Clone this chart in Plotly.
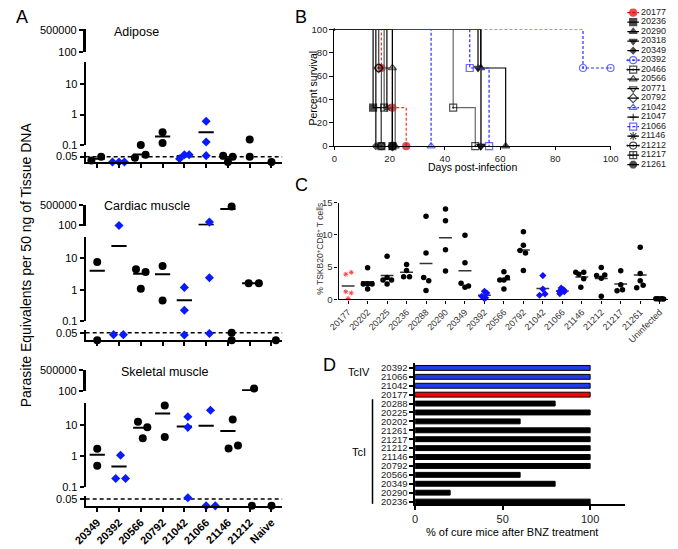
import math
import plotly.graph_objects as go

W, H = 678, 549
FONT = "Arial, Liberation Sans, sans-serif"

# ---------------- Panel A data: parasite equivalents (0 = below detection)
A_CATS = ["20349", "20392", "20566", "20792", "21042", "21066", "21146", "21212", "Naive"]
A_TCIV = ["20392", "21042", "21066"]
LOD = 0.05

ADIPOSE_VALS = [[0.014, 0.05], [0, 0, 0], [0.04, 0.1, 0.068], [0.26, 0.115], [0.03, 0.068, 0.068],
                [0.6, 0.125, 0.059], [0.059, 0, 0.05], [0.15, 0.05], [0]]
ADIPOSE_JIT = [[-0.27, 0.18], [-0.3, 0, 0.25], [-0.27, 0, 0.22], [0, 0], [-0.22, 0, 0.22],
               [0, 0, 0], [-0.22, 0, 0.22], [0, 0], [0]]
ADIPOSE_MEAN = [0.03, None, 0.07, 0.19, 0.055, 0.26, 0.036, None, None]

CARDIAC_VALS = [[7.7, 0], [100, 0.037, 0.037], [4.5, 1.07, 3.65], [5.75, 0.45], [1.18, 0.22, 0.035],
                [400, 2.4, 0.045], [250000, 0.05, 0], [1.6, 1.6], [0]]
CARDIAC_JIT = [[0, 0], [0, -0.25, 0.2], [-0.22, 0, 0.22], [0, 0], [0, 0, 0],
               [0.15, 0.15, 0.15], [0.17, 0.17, 0.17], [-0.05, 0.42], [0.2]]
CARDIAC_MEAN = [4.0, 25, 3.2, 3.1, 0.46, 134, 83000, 1.6, None]

SKELETAL_VALS = [[1.69, 0.49], [1.05, 0.19, 0.19], [12.4, 8.2, 3.7], [41, 4.0], [17.8, 8.2, 0.059],
                 [28.8, 0, 0], [14.6, 1.74, 2.16], [250, 0], [0]]
SKELETAL_JIT = [[0, 0], [0.07, -0.15, 0.3], [-0.13, 0.3, 0.09], [0.1, 0.1], [0.16, 0.16, 0.16],
                [0.2, 0, 0.42], [0.22, 0.03, 0.46], [0.2, 0.1], [0]]
SKELETAL_MEAN = [1.1, 0.46, 8.0, 22.6, 8.7, 9.3, 6.3, 120, None]

# ---------------- Panel B data: survival
SURV_STRAINS = ["20177", "20236", "20290", "20318", "20349", "20392", "20466", "20566", "20771",
                "20792", "21042", "21047", "21066", "21146", "21212", "21217", "21261"]
SURV_DAYS = [[0, 17, 21, 26], [0, 14, 17], [0, 53, 62], [0, 52, 53], [0, 15], [0, 90, 100],
             [0, 43, 51], [0, 21, 22], [0, 53], [0, 16, 21], [0, 35], [0, 52, 53], [0, 49, 56],
             [0, 19, 21], [0, 16, 17], [0, 18, 21], [0, 21]]
SURV_PCT = [[100, 67, 33, 0], [100, 33, 0], [100, 67, 0], [100, 67, 0], [100, 0], [100, 67, 67],
            [100, 33, 0], [100, 67, 0], [100, 0], [100, 67, 0], [100, 0], [100, 67, 0], [100, 67, 0],
            [100, 33, 0], [100, 67, 0], [100, 33, 0], [100, 0]]

# ---------------- Panel C data: % TSKB20+ CD8+ T cells
C_CATS = ["20177", "20202", "20225", "20236", "20288", "20290", "20349", "20392", "20566", "20792",
          "21042", "21066", "21146", "21212", "21217", "21261", "Uninfected"]
C_VALS = [[3.9, 4.2, 1.2, 1.0, 0.15], [4.9, 2.4, 2.4, 2.4, 1.6], [6.7, 3.4, 3.0, 3.0, 2.4],
          [5.4, 4.5, 3.5, 3.5], [12.9, 7.2, 3.4, 2.9, 1.4], [14.0, 12.2, 7.7, 4.4],
          [9.95, 5.7, 2.5, 1.9, 2.1], [1.26, 1.0, 0.5, 0.25, 0.25], [4.3, 3.0, 3.0, 3.4, 1.6],
          [10.5, 8.4, 7.6, 7.2, 4.5], [3.7, 1.6, 0.65, 0.86], [1.77, 1.5, 1.26, 1.2, 0.9],
          [4.2, 3.9, 4.2, 3.2, 1.9], [4.95, 3.7, 3.8, 3.3, 0.5], [4.45, 2.27, 1.36, 1.5],
          [8.1, 4.0, 2.9, 2.2, 1.8], [0.1, 0.1, 0.05, 0.1, 0.05]]
C_JIT = [[-0.12, 0.16, -0.12, 0.16, 0], [0, -0.22, 0, 0.23, 0], [0, 0, -0.21, 0.23, 0],
         [0, 0, -0.15, 0.15], [0, 0, -0.12, 0.14, 0], [0, 0, 0, 0], [0, 0, -0.2, 0, 0.18],
         [0, 0.12, -0.14, 0.06, -0.04], [0, -0.21, 0, 0.18, 0], [0, 0, -0.17, 0.11, 0],
         [0, 0, -0.17, 0.11], [-0.06, 0.07, -0.14, 0.1, -0.13], [-0.31, -0.15, 0.1, 0.1, -0.05],
         [0, -0.24, 0.18, 0, 0], [0, 0, -0.19, 0.09], [0, 0, 0, 0.15, -0.18],
         [-0.2, -0.1, 0, 0.1, 0.2]]

# ---------------- Panel D data: % cure after BNZ
D_CATS = ["20392", "21066", "21042", "20177", "20288", "20225", "20202", "21261", "21217",
          "21212", "21146", "20792", "20566", "20349", "20290", "20236"]
D_CURE = [100, 100, 100, 100, 80, 100, 60, 100, 100, 100, 100, 100, 60, 80, 20, 100]


def px_x(a, b):
    return [a / W, b / W]


def px_y(top, bot):
    return [1 - bot / H, 1 - top / H]


def ax_key(kind, n):
    return f"{kind}axis" if n == 1 else f"{kind}axis{n}"


def ref(kind, n):
    return kind if n == 1 else f"{kind}{n}"


def base_axis(**kw):
    d = dict(showgrid=False, zeroline=False, showline=True, linecolor="black", linewidth=1.5,
             ticks="outside", ticklen=4, tickwidth=1.5, tickcolor="black",
             tickfont=dict(size=11, color="black"))
    d.update(kw)
    return d


fig = go.Figure()
layout = dict(width=W, height=H, margin=dict(l=0, r=0, t=0, b=0), paper_bgcolor="white",
              plot_bgcolor="white", showlegend=False, font=dict(family=FONT, color="black"))
annotations = []
shapes = []

# ================= Panel A
BLUE = "#0a1aff"
A_GEOM = [
    dict(t5=25, t100=47, mtop=57, m01=142, mdec=31, l05=154, ax=159.5),
    dict(t5=204, t100=224, mtop=236, m01=322, mdec=32, l05=334, ax=341.7),
    dict(t5=373, t100=393, mtop=406, m01=492, mdec=32, l05=504, ax=511),
]
A_SETS = [(ADIPOSE_VALS, ADIPOSE_JIT, ADIPOSE_MEAN, "Adipose", (127, 27)),
          (CARDIAC_VALS, CARDIAC_JIT, CARDIAC_MEAN, "Cardiac muscle", (138, 204)),
          (SKELETAL_VALS, SKELETAL_JIT, SKELETAL_MEAN, "Skeletal muscle", (157, 374))]
XR = [-0.53, 8.5]


def seg_of(v):
    if v >= 100:
        return 0
    if v >= 0.1:
        return 1
    return 2


for p, (vals, jit, means, title, tpos) in enumerate(A_SETS):
    g = A_GEOM[p]
    xa = p + 1
    yids = [3 * p + 1, 3 * p + 2, 3 * p + 3]
    last = p == 2
    layout[ax_key("x", xa)] = base_axis(
        domain=px_x(75, 278), range=XR, anchor=ref("y", yids[2]), tickmode="array",
        tickvals=list(range(len(A_CATS))), ticktext=[f"<b>{c}</b>" for c in A_CATS],
        showticklabels=last, tickangle=-45, linewidth=2, tickfont=dict(size=11, color="black"))
    mtop_log = -1 + (g["m01"] - g["mtop"]) / g["mdec"]
    layout[ax_key("y", yids[0])] = base_axis(
        domain=px_y(g["t5"] - 1, g["t100"] + 0.5), type="log", range=[1.98, math.log10(500000) + 0.03],
        anchor=ref("x", xa), tickmode="array", tickvals=[100, 500000], ticktext=["100", "500000"],
        linewidth=2.5)
    layout[ax_key("y", yids[1])] = base_axis(
        domain=px_y(g["mtop"], g["m01"]), type="log", range=[-1, mtop_log],
        anchor=ref("x", xa), tickmode="array", tickvals=[0.1, 1, 10], ticktext=["0.1", "1", "10"],
        linewidth=2)
    bh = 10
    layout[ax_key("y", yids[2])] = base_axis(
        domain=px_y(g["ax"] - bh, g["ax"]), range=[0, LOD * bh / (g["ax"] - g["l05"])],
        anchor=ref("x", xa), tickmode="array", tickvals=[LOD], ticktext=["0.05"], linewidth=2)

    # make sure every axis segment is drawn
    for yid in yids:
        fig.add_trace(go.Scatter(x=[None], y=[None], mode="markers", xaxis=ref("x", xa),
                                 yaxis=ref("y", yid), hoverinfo="skip"))
    # detection limit
    fig.add_trace(go.Scatter(x=XR, y=[LOD, LOD], mode="lines", xaxis=ref("x", xa),
                             yaxis=ref("y", yids[2]), line=dict(color="black", width=1.5, dash="4px,3px"),
                             cliponaxis=False, hoverinfo="skip"))
    # mean lines
    mx = {0: [], 1: [], 2: []}
    my = {0: [], 1: [], 2: []}
    for i, m in enumerate(means):
        if m is None:
            continue
        s = seg_of(m)
        mx[s] += [i - 0.35, i + 0.35, None]
        my[s] += [m, m, None]
    for s in range(3):
        if mx[s]:
            fig.add_trace(go.Scatter(x=mx[s], y=my[s], mode="lines", xaxis=ref("x", xa),
                                     yaxis=ref("y", yids[s]), line=dict(color="black", width=2),
                                     cliponaxis=False, hoverinfo="skip"))
    # points
    for s in range(3):
        for col in ("k", "b"):
            xs, ys = [], []
            for i, cat in enumerate(A_CATS):
                if (cat in A_TCIV) != (col == "b"):
                    continue
                for v, j in zip(vals[i], jit[i]):
                    if seg_of(v) == s:
                        xs.append(i + j)
                        ys.append(v)
            if not xs:
                continue
            mk = dict(symbol="circle", size=8, color="black") if col == "k" else \
                dict(symbol="diamond", size=7, color=BLUE)
            fig.add_trace(go.Scatter(x=xs, y=ys, mode="markers", marker=mk, xaxis=ref("x", xa),
                                     yaxis=ref("y", yids[s]), cliponaxis=False))
    annotations.append(dict(text=title, x=tpos[0] / W, y=1 - tpos[1] / H, xref="paper", yref="paper",
                            showarrow=False, font=dict(size=12.5), xanchor="center", yanchor="middle"))

annotations.append(dict(text="Parasite Equivalents per 50 ng of Tissue DNA", x=13.5 / W, y=1 - 265 / H,
                        xref="paper", yref="paper", showarrow=False, textangle=-90,
                        font=dict(size=14), xanchor="center", yanchor="middle"))

# ================= Panel B
SURV_STYLE = {
    "20177": dict(sym="circle", col="#e00000", dash="3px,2px", lc="#ff3030"),
    "20236": dict(sym="square", col="black"),
    "20290": dict(sym="triangle-up", col="black"),
    "20318": dict(sym="triangle-down", col="black"),
    "20349": dict(sym="diamond", col="black", size=5),
    "20392": dict(sym="circle-open-dot", col="#2b2bff", dash="3px,2px"),
    "20466": dict(sym="square-open-dot", col="black", lc="#666666"),
    "20566": dict(sym="triangle-up-open", col="black", lc="#555555"),
    "20771": dict(sym="triangle-down-open", col="black"),
    "20792": dict(sym="diamond-open", col="black", lc="#555555"),
    "21042": dict(sym="triangle-up-open", col="#2b2bff", dash="3px,2px"),
    "21047": dict(sym="cross-thin-open", col="black", lc="#666666", size=5),
    "21066": dict(sym="square-open", col="#2b2bff", dash="3px,2px"),
    "21146": dict(sym="asterisk-open", col="black"),
    "21212": dict(sym="circle-open-dot", col="black", lc="#555555"),
    "21217": dict(sym="square-cross-open", col="black", lc="#555555"),
    "21261": dict(sym="octagon", col="black"),
}
layout["xaxis4"] = base_axis(domain=px_x(331.7, 616.7), range=[0, 100], anchor="y10",
                             tickvals=[0, 20, 40, 60, 80, 100], tickfont=dict(size=9.5, color="#222"),
                             linewidth=1.2, tickwidth=1.2, ticklen=3)
layout["yaxis10"] = base_axis(domain=px_y(24, 143.3), range=[0, 100], anchor="x4",
                              tickvals=[0, 20, 40, 60, 80, 100], tickfont=dict(size=9.5, color="#222"),
                              linewidth=1.2, tickwidth=1.2)
for k, strain in enumerate(SURV_STRAINS):
    st = SURV_STYLE[strain]
    days, pct = SURV_DAYS[k], SURV_PCT[k]
    sz = [0] + [st.get("size", 7)] * (len(days) - 1)
    fig.add_trace(go.Scatter(
        x=days, y=pct, mode="lines+markers", xaxis="x4", yaxis="y10", line_shape="hv",
        line=dict(color=st.get("lc", st["col"]), width=1.2, dash=st.get("dash", "solid")),
        marker=dict(symbol=st["sym"], size=sz, color=st["col"], line=dict(color=st["col"], width=1.2)),
        cliponaxis=False))

# legend (drawn on a hidden helper axis)
layout["xaxis5"] = dict(domain=px_x(628, 678), range=[0, 50], visible=False, anchor="y11")
layout["yaxis11"] = dict(domain=px_y(2, 167), range=[len(SURV_STRAINS) - 0.5, -0.5], visible=False,
                         anchor="x5")
for k, strain in enumerate(SURV_STRAINS):
    st = SURV_STYLE[strain]
    fig.add_trace(go.Scatter(
        x=[6, 12, 18], y=[k, k, k], mode="lines+markers", xaxis="x5", yaxis="y11",
        line=dict(color=st["col"], width=1.2, dash=st.get("dash", "solid")),
        marker=dict(symbol=st["sym"], size=[0, st.get("size", 7), 0], color=st["col"],
                    line=dict(color=st["col"], width=1.2)), cliponaxis=False))
fig.add_trace(go.Scatter(x=[20] * len(SURV_STRAINS), y=list(range(len(SURV_STRAINS))), mode="text",
                         text=SURV_STRAINS, textposition="middle right", xaxis="x5", yaxis="y11",
                         textfont=dict(size=9, color="#222"), cliponaxis=False))

annotations.append(dict(text="Percent survival", x=310 / W, y=1 - 84 / H, xref="paper", yref="paper",
                        showarrow=False, textangle=-90, font=dict(size=10.5),
                        xanchor="center", yanchor="middle"))
annotations.append(dict(text="Days post-infection", x=474 / W, y=1 - 164.5 / H, xref="paper",
                        yref="paper", showarrow=False, font=dict(size=10.5),
                        xanchor="center", yanchor="middle"))

# ================= Panel C
layout["xaxis6"] = base_axis(domain=px_x(336, 676), range=[-0.49, 16.43], anchor="y12",
                             tickmode="array", tickvals=list(range(len(C_CATS))), ticktext=C_CATS,
                             tickangle=-45, ticklen=3, tickwidth=1, linewidth=1.2,
                             tickfont=dict(size=9, color="#333"))
layout["yaxis12"] = base_axis(domain=px_y(201, 300), range=[0, 15], anchor="x6",
                              tickvals=[0, 5, 10, 15], ticklen=3, tickwidth=1, linewidth=1.2,
                              tickfont=dict(size=9.5, color="#333"))
C_TCIV = ["20392", "21042", "21066"]
mx, my = [], []
groups = {"k": ([], []), "b": ([], []), "r": ([], [])}
for i, cat in enumerate(C_CATS):
    vals = C_VALS[i]
    m = sum(vals) / len(vals)
    mx += [i - 0.33, i + 0.33, None]
    my += [m, m, None]
    key = "r" if cat == "20177" else ("b" if cat in C_TCIV else "k")
    for v, j in zip(vals, C_JIT[i]):
        groups[key][0].append(i + j)
        groups[key][1].append(v)
fig.add_trace(go.Scatter(x=mx, y=my, mode="lines", xaxis="x6", yaxis="y12",
                         line=dict(color="#333", width=1.5), cliponaxis=False))
C_MK = {"k": dict(symbol="circle", size=5.5, color="black"),
        "b": dict(symbol="diamond", size=5.5, color="#1010ff"),
        "r": dict(symbol="asterisk-open", size=4, color="#ff4040", line=dict(color="#ff4040", width=1))}
for key, (xs, ys) in groups.items():
    fig.add_trace(go.Scatter(x=xs, y=ys, mode="markers", marker=C_MK[key], xaxis="x6", yaxis="y12",
                             cliponaxis=False))
annotations.append(dict(text="% TSKB20<sup>+</sup>CD8<sup>+</sup> T cells", x=317 / W, y=1 - 248 / H,
                        xref="paper", yref="paper", showarrow=False, textangle=-90,
                        font=dict(size=8.5, color="#333"), xanchor="center", yanchor="middle"))

# ================= Panel D
D_COLORS = ["#1f3ce6" if c in ("20392", "21066", "21042") else ("#ff0000" if c == "20177" else "black")
            for c in D_CATS]
fig.add_trace(go.Bar(x=D_CURE, y=D_CATS, orientation="h", xaxis="x7", yaxis="y13", width=0.55,
                     marker=dict(color=D_COLORS, line=dict(color="black", width=1))))
layout["xaxis7"] = base_axis(domain=px_x(415, 631.7), range=[0, 120], anchor="y13",
                             tickvals=[0, 50, 100], linewidth=1.5, tickfont=dict(size=11, color="#222"))
layout["yaxis13"] = base_axis(domain=px_y(365, 509.3), type="category", categoryorder="array",
                              categoryarray=D_CATS, range=[len(D_CATS) - 0.71, -0.55], anchor="x7",
                              tickmode="array", tickvals=D_CATS, ticktext=D_CATS,
                              linewidth=1.5, ticklen=4, tickfont=dict(size=9.5, color="#222"))
annotations.append(dict(text="% of cure mice after BNZ treatment", x=515 / W, y=1 - 538 / H,
                        xref="paper", yref="paper", showarrow=False, font=dict(size=11),
                        xanchor="center", yanchor="middle"))
annotations.append(dict(text="TcIV", x=357 / W, y=1 - 374 / H, xref="paper", yref="paper",
                        showarrow=False, font=dict(size=11), xanchor="center", yanchor="middle"))
annotations.append(dict(text="TcI", x=357 / W, y=1 - 456 / H, xref="paper", yref="paper",
                        showarrow=False, font=dict(size=11), xanchor="center", yanchor="middle"))
shapes.append(dict(type="line", xref="paper", yref="paper", x0=371 / W, x1=371 / W,
                   y0=1 - 402 / H, y1=1 - 509 / H, line=dict(color="black", width=1.5)))

# panel letters
for letter, (lx, ly) in {"A": (9, 11), "B": (297, 11), "C": (298, 183), "D": (327, 367)}.items():
    annotations.append(dict(text=letter, x=lx / W, y=1 - ly / H, xref="paper", yref="paper",
                            showarrow=False, font=dict(size=18), xanchor="center", yanchor="middle"))

layout["annotations"] = annotations
layout["shapes"] = shapes
fig.update_layout(**layout)
# the page's default body margin would push the figure 8px right/down
fig.write_html("out.html", config={"displayModeBar": False},
               post_script="document.body.style.margin='0';")
